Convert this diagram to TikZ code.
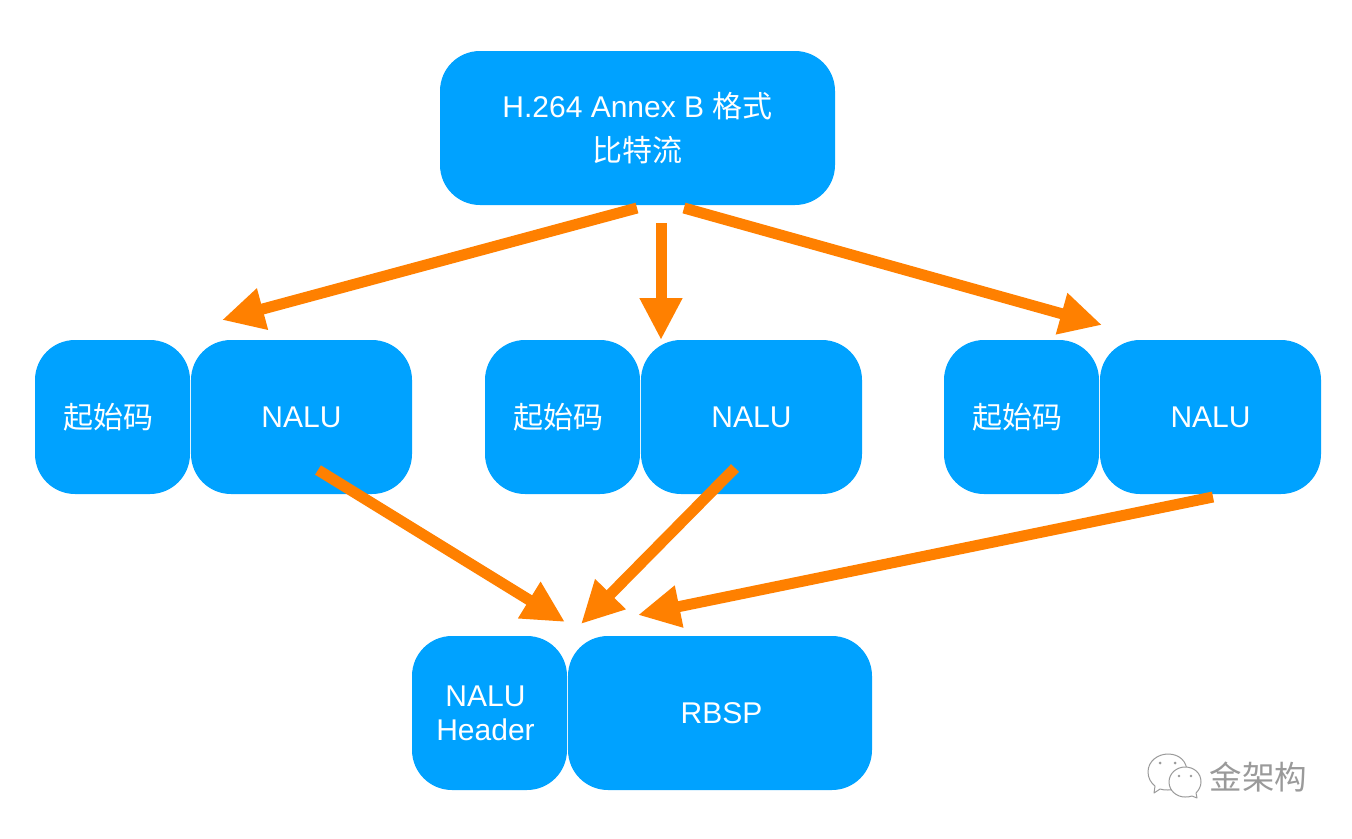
\documentclass[tikz,border=0pt]{standalone}
\usepackage{fontspec}
\setmainfont{Liberation Sans}
\newfontfamily\cjk{Noto Sans CJK SC}
\usetikzlibrary{arrows.meta}
\definecolor{boxblue}{HTML}{00A2FF}
\definecolor{arroworange}{HTML}{FF8000}
\definecolor{logogray}{HTML}{9A9A9A}
\tikzset{
  x=1pt,y=-1pt,
  box/.style={fill=boxblue,draw=none,rounded corners=40pt,text=white,align=center,inner sep=0pt,
    font=\fontsize{30}{35}\selectfont},
  arr/.style={draw=arroworange,line width=11pt,-{Triangle[length=42pt,width=40pt,fill=arroworange]}},
  logo/.style={draw=logogray,line width=1pt,fill=white,line join=round},
  dot/.style={fill=logogray,draw=none}
}
\newcommand{\zh}[1]{{\cjk #1}}
\newcommand{\lft}[1]{#1\hspace*{8pt}}
\newcommand{\boxat}[6]{\node[box,minimum width=#3pt,minimum height=#4pt] (#5) at (#1,#2) {#6};}
\begin{document}
\begin{tikzpicture}
\useasboundingbox (0,0) rectangle (1352,838);
\fill[white] (0,0) rectangle (1352,838);
\boxat{637.5}{128}{395}{154}{top}{H.264 Annex B \zh{格式}\\[9pt]\zh{比特流}}
\boxat{112.5}{417}{155}{154}{sa}{\lft{\zh{起始码}}}
\boxat{301.5}{417}{221}{154}{na}{NALU}
\boxat{562.5}{417}{155}{154}{sb}{\lft{\zh{起始码}}}
\boxat{751.5}{417}{221}{154}{nb}{NALU}
\boxat{1021.5}{417}{155}{154}{sc}{\lft{\zh{起始码}}}
\boxat{1210.5}{417}{221}{154}{nc}{NALU}
\boxat{489.5}{713}{155}{154}{hdr}{\lft{NALU}\\[-1pt]\lft{Header}}
\boxat{720}{713}{304}{154}{rbsp}{\hspace*{3pt}RBSP}
\coordinate (s1) at (637,208);
\coordinate (e1) at (222,320);
\coordinate (s2) at (661,223);
\coordinate (e2) at (661,340);
\coordinate (s3) at (684,208);
\coordinate (e3) at (1102,325);
\coordinate (s4) at (318,470);
\coordinate (e4) at (565,622);
\coordinate (s5) at (735,468);
\coordinate (e5) at (581,624);
\coordinate (s6) at (1213,497);
\coordinate (e6) at (638,615);
\foreach \i in {1,...,6} {\draw[arr] (s\i) -- (e\i);}
% logo
\draw[logo] (1148,772) .. controls (1148,761) and (1158,754) .. (1168,754)
  .. controls (1179,754) and (1187,761) .. (1187,772)
  .. controls (1187,783) and (1178,790) .. (1168,790)
  .. controls (1165,790) and (1163,790) .. (1160,789)
  -- (1154,793) -- (1155,786)
  .. controls (1151,783) and (1148,778) .. (1148,772) -- cycle;
\draw[logo] (1169,782) .. controls (1169,773) and (1177,767) .. (1185,767)
  .. controls (1194,767) and (1201,773) .. (1201,782)
  .. controls (1201,786) and (1199,790) .. (1196,793)
  -- (1197,798) -- (1192,796)
  .. controls (1190,797) and (1187,797) .. (1185,797)
  .. controls (1177,797) and (1169,791) .. (1169,782) -- cycle;
\fill[dot] (1160,763) circle (1.5pt) (1175,763) circle (1.5pt)
  (1179,776) circle (1.3pt) (1191,776) circle (1.3pt);
\node[text=logogray,inner sep=0pt,font=\fontsize{32.5}{35}\selectfont] (mark) at (1258.5,777) {\zh{金架构}};
\end{tikzpicture}
\end{document}
